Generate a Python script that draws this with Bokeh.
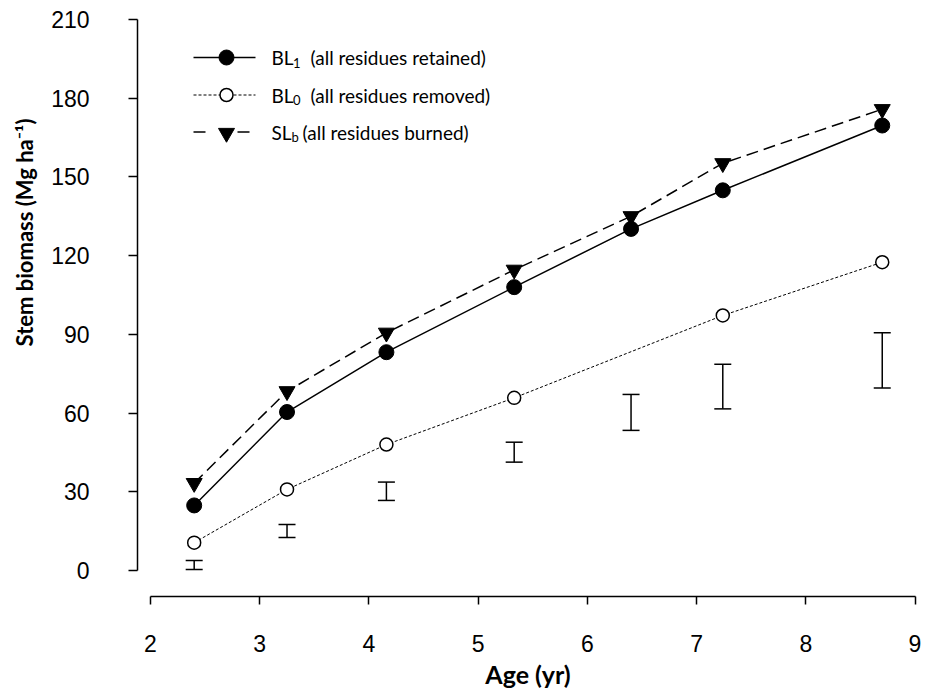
from bokeh.plotting import figure
from bokeh.models import ColumnDataSource, Whisker, TeeHead, FixedTicker, Range1d, Title
from bokeh.core.properties import value
from bokeh.embed import file_html
from bokeh.resources import INLINE

# ---------------- data ----------------
age = [2.40, 3.25, 4.16, 5.33, 6.40, 7.24, 8.70]
bl1 = [24.8, 60.4, 83.2, 108.0, 130.2, 144.9, 169.6]      # BL1 all residues retained
slb = [33.3, 68.3, 90.6, 114.6, 135.0, 155.2, 175.8]      # SLb all residues burned
bl0_age = [2.40, 3.25, 4.16, 5.33, 7.24, 8.70]
bl0 = [10.6, 30.9, 48.0, 65.8, 97.2, 117.5]               # BL0 all residues removed
err_low = [0.4, 12.6, 26.7, 41.3, 53.4, 61.6, 69.6]
err_high = [3.8, 17.5, 33.7, 48.9, 67.1, 78.6, 90.6]

x_ticks = [2, 3, 4, 5, 6, 7, 8, 9]
y_ticks = [0, 30, 60, 90, 120, 150, 180, 210]

legend_main = ["(all residues retained)", "(all residues removed)", "(all residues burned)"]
legend_base = ["BL", "BL", "SL"]
legend_sub = ["1", "0", "b"]

x_title = "Age (yr)"
y_title = "Stem biomass (Mg ha\u207b\u00b9)"

# ---------------- layout ----------------
W, H = 928, 693
BL, BR, BT, BB = 137, 10, 12, 97
X0, X1 = 1.881, 9.032
Y0, Y1 = -9.91, 212.67
FW, FH = W - BL - BR, H - BT - BB

def px2x(px):
    return X0 + (px - BL) * (X1 - X0) / FW

def py2y(py):
    return Y1 - (py - BT) * (Y1 - Y0) / FH

p = figure(width=W, height=H, output_backend="svg", toolbar_location=None,
           x_range=Range1d(X0, X1), y_range=Range1d(Y0, Y1),
           min_border_left=BL, min_border_right=BR, min_border_top=BT, min_border_bottom=BB)
p.outline_line_color = None
p.grid.visible = False
p.background_fill_color = "white"
p.border_fill_color = "white"

# error bars
src_err = ColumnDataSource(dict(base=age, lower=err_low, upper=err_high))
wh = Whisker(source=src_err, base="base", lower="lower", upper="upper",
             line_color="black", line_width=1.5,
             upper_head=TeeHead(size=17, line_width=1.5, line_color="black"),
             lower_head=TeeHead(size=17, line_width=1.5, line_color="black"))
p.add_layout(wh)

# series lines
p.line(bl0_age, bl0, line_color="black", line_width=1, line_dash="3 2")
p.line(age, slb, line_color="black", line_width=1.5, line_dash="12 6")
p.line(age, bl1, line_color="black", line_width=1.5)

# markers
p.scatter(bl0_age, bl0, marker="circle", size=13, fill_color="white", line_color="black", line_width=1.5)
p.scatter(age, slb, marker="inverted_triangle", size=16, fill_color="black", line_color="black")
p.scatter(age, bl1, marker="circle", size=15, fill_color="black", line_color="black")

# ---------------- legend (drawn manually) ----------------
rows_py = [57, 94.5, 131.5]
lx0, lx1, lmid = 193, 255, 226
# row 1
p.line([px2x(lx0), px2x(lx1)], [py2y(rows_py[0])] * 2, line_color="black", line_width=1.5)
p.scatter([px2x(lmid)], [py2y(rows_py[0])], marker="circle", size=15, fill_color="black", line_color="black")
# row 2
p.line([px2x(lx0), px2x(lx1)], [py2y(rows_py[1])] * 2, line_color="black", line_width=1, line_dash="3 2")
p.scatter([px2x(lmid)], [py2y(rows_py[1])], marker="circle", size=13, fill_color="white", line_color="black", line_width=1.5)
# row 3
p.line([px2x(lx0), px2x(249)], [py2y(rows_py[2])] * 2, line_color="black", line_width=1.5, line_dash="12 32")
p.scatter([px2x(lmid)], [py2y(rows_py[2] + 1)], marker="inverted_triangle", size=16, fill_color="black", line_color="black")

base_px = [271, 271, 271]
sub_px = [292.5, 292.5, 291]
main_px = [310, 310, 302]
p.text([px2x(v) for v in base_px], [py2y(v) for v in rows_py], text=legend_base,
       text_font=value("Lato"), text_font_size=value("19px"), text_baseline="middle",
       text_align="left", text_color="black")
p.text([px2x(v) for v in sub_px], [py2y(v + 5) for v in rows_py], text=legend_sub,
       text_font=value("Lato"), text_font_size=value("13px"), text_baseline="middle",
       text_align="left", text_color="black")
p.text([px2x(v) for v in main_px], [py2y(v) for v in rows_py], text=legend_main,
       text_font=value("Lato"), text_font_size=value("19px"), text_baseline="middle",
       text_align="left", text_color="black")

# y axis title, set above the axis centre as in the reference
p.add_layout(Title(text=y_title, align="right", vertical_align="top", offset=106, standoff=18,
                   text_font="Lato", text_font_style="bold", text_font_size="22px",
                   text_color="black"), "left")

# ---------------- axes ----------------
for ax in (p.xaxis[0], p.yaxis[0]):
    ax.axis_line_color = "black"
    ax.axis_line_width = 1.5
    ax.major_tick_line_color = "black"
    ax.major_tick_line_width = 1.5
    ax.major_tick_in = 0
    ax.minor_tick_line_color = None
    ax.major_label_text_font = "Liberation Sans"
    ax.major_label_text_font_size = "23px"
    ax.major_label_text_color = "black"
    ax.axis_label_text_font = "Lato"
    ax.axis_label_text_font_style = "bold"
    ax.axis_label_text_color = "black"

p.xaxis.ticker = FixedTicker(ticks=x_ticks)
p.xaxis.bounds = (2, 9)
p.xaxis.major_tick_out = 8
p.xaxis.major_label_standoff = 30
p.xaxis.axis_label = x_title
p.xaxis.axis_label_text_font_size = "25px"
p.xaxis.axis_label_standoff = 4

p.yaxis.ticker = FixedTicker(ticks=y_ticks)
p.yaxis.bounds = (0, 210)
p.yaxis.major_tick_out = 9
p.yaxis.major_label_standoff = 39

open("out.html", "w").write(file_html(p, INLINE))
